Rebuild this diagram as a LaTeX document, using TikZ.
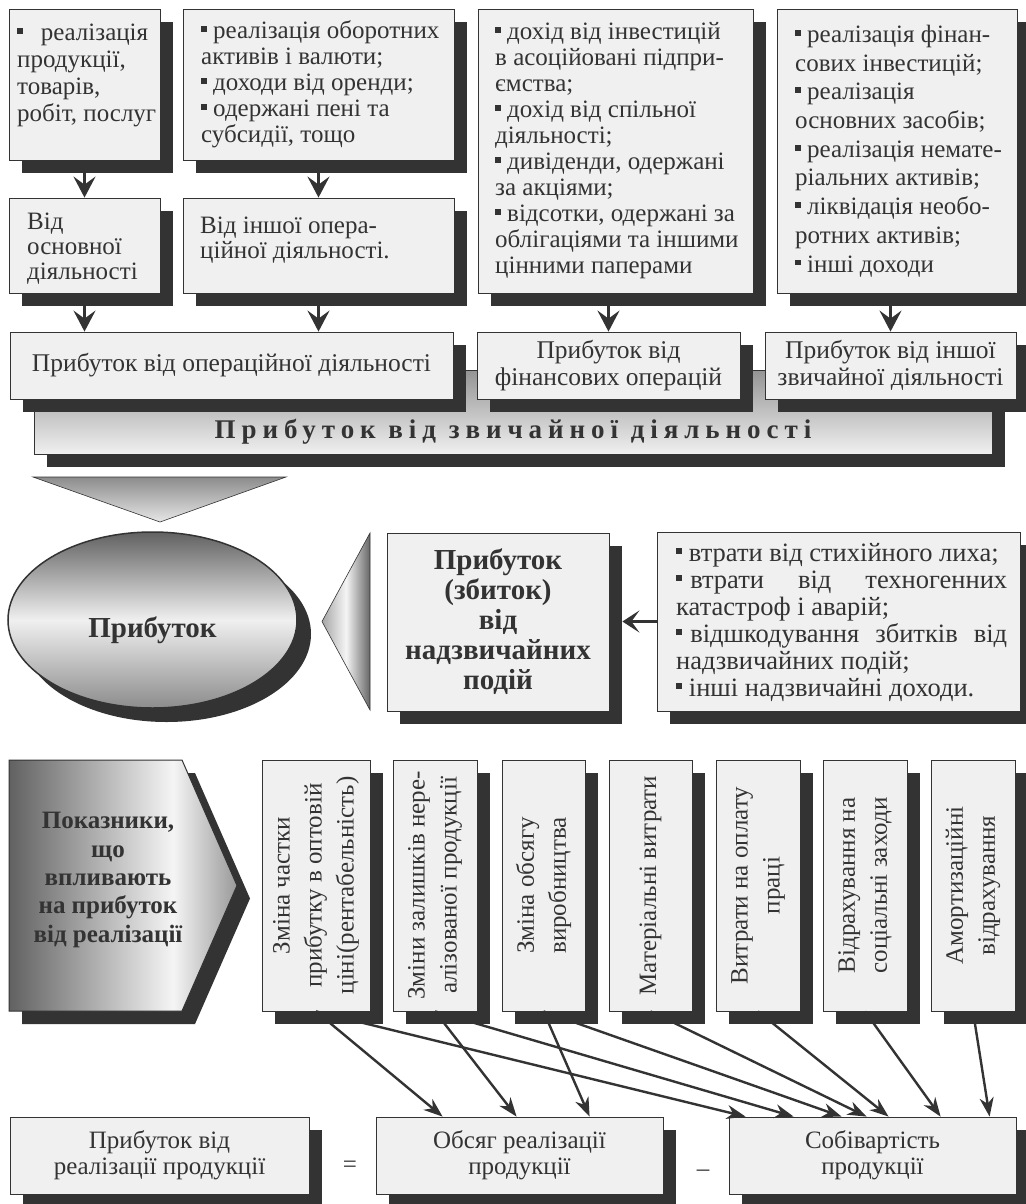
\documentclass[tikz,border=0pt]{standalone}
\usepackage{fontspec}
\setmainfont{Liberation Serif}
\usepackage{tikz}
\usetikzlibrary{arrows.meta,shapes.geometric,shadows,calc}

\definecolor{ink}{HTML}{333333}
\definecolor{paper}{HTML}{F0F0F0}
\pgfdeclarehorizontalshading{arrowfill}{100bp}{color(0bp)=(black!62); color(25bp)=(black!62); color(61bp)=(black!4); color(75bp)=(black!40); color(100bp)=(black!40)}

\newcommand{\bul}{\raisebox{0.27em}{\rule{0.23em}{0.23em}}}
\newcommand{\jline}[2]{\makebox[#1][s]{#2}}

\begin{document}
\begin{tikzpicture}[x=1pt, y=-1pt,
    card/.style={draw=ink, line width=0.8pt, fill=paper, inner sep=0pt, text=ink,
      drop shadow={shadow xshift=13pt, shadow yshift=-13pt, fill=ink, opacity=1}},
    txt/.style={inner sep=0pt, text=ink, align=left},
    bigarrow/.style={draw=ink, line width=3pt, -{Stealth[length=21pt, width=22pt, inset=8pt]}},
    midarrow/.style={draw=ink, line width=2.5pt, -{Stealth[length=17pt, width=22pt, inset=8pt]}},
    thinarrow/.style={draw=ink, line width=2.4pt, -{Stealth[length=19pt, width=14pt, inset=6pt]}}]
				\useasboundingbox[fill=white] (0,0) rectangle (1025,1204);
				% Sources of income:
				\node[card, minimum width=151pt, minimum height=151pt] (sales) at (84.5,84.5) {};
				\node[txt, anchor=north west, font=\fontsize{25}{27}\selectfont] (salestext) at (17,24) {\jline{131pt}{\bul{} реалізація}\\продукції,\\товарів,\\робіт, послуг};
				\node[card, minimum width=271pt, minimum height=151pt] (otherop) at (318.5,84.5) {};
				\node[txt, anchor=west, font=\fontsize{25}{26}\selectfont] (otheroptext) at (201,84.5) {\bul{} реалізація оборотних\\активів і валюти;\\\bul{} доходи від оренди;\\\bul{} одержані пені та\\субсидії, тощо};
				\node[card, minimum width=275pt, minimum height=284pt] (invest) at (615.5,151) {};
				\node[txt, anchor=west, font=\fontsize{25}{26}\selectfont] (investtext) at (495,151) {\bul{} дохід від інвестицій\\в асоційовані підпри-\\ємства;\\\bul{} дохід від спільної\\діяльності;\\\bul{} дивіденди, одержані\\за акціями;\\\bul{} відсотки, одержані за\\облігаціями та іншими\\цінними паперами};
				\node[card, minimum width=240pt, minimum height=284pt] (assets) at (897,151) {};
				\node[txt, anchor=west, font=\fontsize{25}{28.7}\selectfont] (assetstext) at (795,151) {\bul{} реалізація фінан-\\сових інвестицій;\\\bul{} реалізація\\основних засобів;\\\bul{} реалізація немате-\\ріальних активів;\\\bul{} ліквідація необо-\\ротних активів;\\\bul{} інші доходи};
				\node[card, minimum width=151pt, minimum height=95pt] (mainact) at (84.5,245.5) {};
				\node[txt, anchor=west, font=\fontsize{25}{25}\selectfont] (mainacttext) at (27,249) {Від\\основної\\діяльності};
				\node[card, minimum width=271pt, minimum height=95pt] (otheract) at (318.5,245.5) {};
				\node[txt, anchor=west, font=\fontsize{25}{25}\selectfont] (otheracttext) at (200,240) {Від іншої опера-\\ційної діяльності.};
				% Profit from ordinary activity:
				\node[card, minimum width=958pt, minimum height=84pt, top color=black!42, bottom color=paper] (ordprofit) at (513,412) {};
				\node[txt, font=\bfseries\fontsize{27}{27}\selectfont\addfontfeature{LetterSpace=22}] (ordtext) at (513,432) {Прибуток від звичайної діяльності};
				\node[card, minimum width=443pt, minimum height=67pt, align=center, font=\fontsize{25.5}{27}\selectfont] (opprofit) at (231.5,365.5) {Прибуток від операційної діяльності};
				\node[card, minimum width=263pt, minimum height=67pt, align=center, font=\fontsize{25.5}{27}\selectfont] (finprofit) at (608.5,365.5) {Прибуток від\\фінансових операцій};
				\node[card, minimum width=251pt, minimum height=67pt, align=center, font=\fontsize{25.5}{27}\selectfont] (otherprofit) at (890.5,365.5) {Прибуток від іншої\\звичайної діяльності};
				\draw[bigarrow] (sales.south) -- (mainact.north);
				\draw[bigarrow] (otherop.south) -- (otheract.north);
				\draw[bigarrow] (mainact.south) -- (mainact.south |- opprofit.north);
				\draw[bigarrow] (otheract.south) -- (otheract.south |- opprofit.north);
				\draw[bigarrow] (finprofit.north |- invest.south) -- (finprofit.north);
				\draw[bigarrow] (otherprofit.north |- assets.south) -- (otherprofit.north);
				% Total profit:
				\draw[draw=ink, line width=0.6pt, top color=black!45, bottom color=black!10] (33,477) -- (286,477) -- (160,522) -- cycle;
				\node[ellipse, draw=ink, line width=1.5pt, minimum width=289pt, minimum height=176pt, top color=black!62, bottom color=black!45, middle color=black!6, drop shadow={shadow xshift=14pt, shadow yshift=-14pt, fill=ink, opacity=1}] (profit) at (152.5,620) {};
				\node[txt, font=\bfseries\fontsize{29}{30}\selectfont] (profittext) at (152.5,630) {Прибуток};
				\draw[draw=ink, line width=0.6pt, left color=black!35, right color=black!60, middle color=black!4] (370,533) -- (370,710) -- (322,621.5) -- cycle;
				\node[card, minimum width=222pt, minimum height=178pt, align=center, font=\bfseries\fontsize{29}{30}\selectfont] (extra) at (498,622) {Прибуток\\(збиток)\\від\\надзвичайних\\подій};
				\node[card, minimum width=363pt, minimum height=179pt] (losses) at (838.5,621.5) {};
				\node[txt, anchor=west, font=\fontsize{26.5}{27}\selectfont] (lossestext) at (676,622) {\bul{} втрати від стихійного лиха;\\\jline{331pt}{\bul\hspace{0.3em}втрати від техногенних}\\катастроф і аварій;\\\jline{331pt}{\bul\hspace{0.3em}відшкодування збитків від}\\надзвичайних подій;\\\bul{} інші надзвичайні доходи.};
				\coordinate (extrashadow) at ([xshift=13pt]extra.east);
				\draw[midarrow] (losses.west) -- (losses.west -| extrashadow);
				% Factors of profit from sales:
				\fill[ink] (22,773) -- (195,773) -- (250,898.5) -- (195,1024) -- (22,1024) -- cycle;
				\draw[draw=ink, line width=1pt, shade, shading=arrowfill] (9,760) -- (182,760) -- (237,885.5) -- (182,1011) -- (9,1011) -- cycle;
				\node[txt, align=center, font=\bfseries\fontsize{25}{28.3}\selectfont] (factors) at (108,880) {Показники,\\що\\впливають\\на прибуток\\від реалізації};
				\node[card, minimum width=108pt, minimum height=251pt] (f1) at (316,885.5) {};
				\node[card, minimum width=84pt, minimum height=251pt] (f2) at (435,885.5) {};
				\node[card, minimum width=83pt, minimum height=251pt] (f3) at (543.5,885.5) {};
				\node[card, minimum width=83pt, minimum height=251pt] (f4) at (650.5,885.5) {};
				\node[card, minimum width=84pt, minimum height=251pt] (f5) at (758,885.5) {};
				\node[card, minimum width=84pt, minimum height=251pt] (f6) at (865,885.5) {};
				\node[card, minimum width=84pt, minimum height=251pt] (f7) at (973,885.5) {};
				\node[txt, align=center, rotate=90, font=\fontsize{25}{32}\selectfont] (f1text) at (f1) {Зміна частки\\прибутку в оптовій\\ціні(рентабельність)};
				\node[txt, align=center, rotate=90, font=\fontsize{25}{32}\selectfont] (f2text) at (f2) {Зміни залишків нере-\\алізованої продукції};
				\node[txt, align=center, rotate=90, font=\fontsize{25}{32}\selectfont] (f3text) at (f3) {Зміна обсягу\\виробництва};
				\node[txt, align=center, rotate=90, font=\fontsize{25}{32}\selectfont] (f4text) at (f4) {Матеріальні витрати};
				\node[txt, align=center, rotate=90, font=\fontsize{25}{32}\selectfont] (f5text) at (f5) {Витрати на оплату\\праці};
				\node[txt, align=center, rotate=90, font=\fontsize{25}{32}\selectfont] (f6text) at (f6) {Відрахування на\\соціальні заходи};
				\node[txt, align=center, rotate=90, font=\fontsize{25}{32}\selectfont] (f7text) at (f7) {Амортизаційні\\відрахування};
				% Profit from sales = volume - cost:
				\node[card, minimum width=299pt, minimum height=77pt, align=center, font=\fontsize{25}{26}\selectfont] (salesprofit) at (159.5,1155.5) {Прибуток від\\реалізації продукції};
				\node[card, minimum width=287pt, minimum height=77pt, align=center, font=\fontsize{25}{26}\selectfont] (volume) at (519.5,1155.5) {Обсяг реалізації\\продукції};
				\node[card, minimum width=287pt, minimum height=77pt, align=center, font=\fontsize{25}{26}\selectfont] (cost) at (872.5,1155.5) {Собівартість\\продукції};
				\node[txt, font=\fontsize{25}{26}\selectfont] (eq) at (350,1167) {=};
				\node[txt, font=\fontsize{25}{26}\selectfont] (minus) at (703,1173) {–};
				\draw[thinarrow] (f1.south) -- ([xshift=67pt]volume.north west);
				\draw[thinarrow] (f2.south) -- ([xshift=141pt]volume.north west);
				\draw[thinarrow] (f3.south) -- ([xshift=214pt]volume.north west);
				\draw[thinarrow] (f1.south) -- ([xshift=17pt]cost.north west);
				\draw[thinarrow] (f2.south) -- ([xshift=65pt]cost.north west);
				\draw[thinarrow] (f3.south) -- ([xshift=113pt]cost.north west);
				\draw[thinarrow] (f4.south) -- ([xshift=138pt]cost.north west);
				\draw[thinarrow] (f5.south) -- ([xshift=160pt]cost.north west);
				\draw[thinarrow] (f6.south) -- ([xshift=212pt]cost.north west);
				\draw[thinarrow] (f7.south) -- ([xshift=261pt]cost.north west);
\end{tikzpicture}
\end{document}
